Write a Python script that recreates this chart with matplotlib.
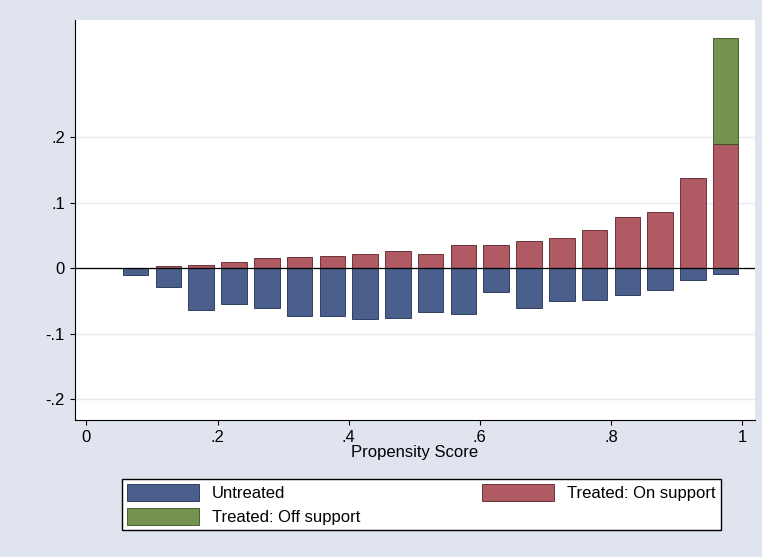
import matplotlib.pyplot as plt

centers = [0.075, 0.125, 0.175, 0.225, 0.275, 0.325, 0.375, 0.425, 0.475, 0.525,
           0.575, 0.625, 0.675, 0.725, 0.775, 0.825, 0.875, 0.925, 0.975]
untreated = [-0.011, -0.029, -0.064, -0.055, -0.061, -0.073, -0.073, -0.078, -0.076, -0.067,
             -0.070, -0.037, -0.061, -0.050, -0.049, -0.041, -0.034, -0.018, -0.009]
treated_on = [0.0, 0.003, 0.005, 0.010, 0.016, 0.017, 0.019, 0.022, 0.026, 0.022,
              0.035, 0.035, 0.041, 0.046, 0.058, 0.078, 0.086, 0.137, 0.190]
off_centers = [0.975]
treated_off = [0.161]
off_bottom = [0.190]

plt.rcParams['font.family'] = ['Liberation Sans', 'DejaVu Sans']
fig = plt.figure(figsize=(7.62, 5.57), dpi=100, facecolor='#dfe4ef')
ax = fig.add_axes([0.098, 0.246, 0.893, 0.718])
ax.set_facecolor('white')
w = 0.039
b1 = ax.bar(centers, untreated, width=w, color='#4a5f8c', edgecolor='#1e2d50', linewidth=0.6)
b2 = ax.bar(centers, treated_on, width=w, color='#b05a63', edgecolor='#5a1e28', linewidth=0.6)
b3 = ax.bar(off_centers, treated_off, bottom=off_bottom, width=w, color='#74934f',
            edgecolor='#34501e', linewidth=0.6)
ax.axhline(0, color='black', linewidth=0.9)
ax.set_xlim(-0.018, 1.02)
ax.set_ylim(-0.232, 0.379)
ax.set_yticks([-0.2, -0.1, 0, 0.1, 0.2])
ax.set_yticklabels(['-.2', '-.1', '0', '.1', '.2'])
ax.set_xticks([0, 0.2, 0.4, 0.6, 0.8, 1])
ax.set_xticklabels(['0', '.2', '.4', '.6', '.8', '1'])
ax.yaxis.grid(True, color='#e6eaf2', linewidth=1)
ax.set_axisbelow(True)
for s in ['top', 'right']:
    ax.spines[s].set_visible(False)
ax.tick_params(labelsize=12)
ax.set_xlabel('Propensity Score', fontsize=12, labelpad=0)
fig.legend([b1, b3, b2], ['Untreated', 'Treated: Off support', 'Treated: On support'],
           ncol=2, loc='center', bbox_to_anchor=(0.553, 0.094), fontsize=12,
           fancybox=False, edgecolor='black', framealpha=1, handlelength=4.3,
           handleheight=1.2, columnspacing=7.3, borderpad=0.3, labelspacing=0.4)
fig.savefig('out.png', dpi=100, facecolor=fig.get_facecolor())
